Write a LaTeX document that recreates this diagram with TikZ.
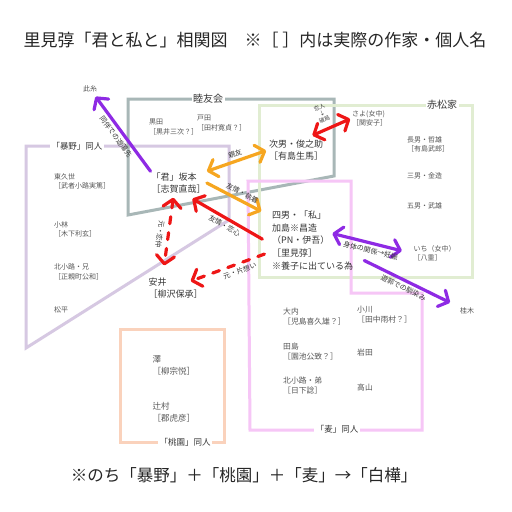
\documentclass[tikz,border=0pt]{standalone}
\usepackage{fontspec}
\setmainfont{Noto Sans CJK JP}
\usetikzlibrary{arrows.meta}
\definecolor{kaigray}{RGB}{168,183,183}
\definecolor{bouya}{RGB}{214,200,226}
\definecolor{akamatsu}{RGB}{225,237,210}
\definecolor{mugi}{RGB}{246,198,246}
\definecolor{touen}{RGB}{250,210,188}
\definecolor{yuujou}{RGB}{246,166,32}
\definecolor{koi}{RGB}{238,22,22}
\definecolor{yuukaku}{RGB}{142,42,228}
\definecolor{sumi}{RGB}{55,55,55}
\definecolor{usuzumi}{RGB}{85,85,85}
\newcommand\ttlfont{\fontsize{17}{20}\selectfont}
\newcommand\ntfont{\fontsize{16.5}{20}\selectfont}
\newcommand\nmfont{\fontsize{9}{12.7}\selectfont}
\newcommand\smfont{\fontsize{7}{9.5}\selectfont}
\newcommand\mgfont{\fontsize{7.8}{10}\selectfont}
\newcommand\tefont{\fontsize{8.5}{12.5}\selectfont}
\newcommand\lbfont{\fontsize{7}{7.5}\selectfont}
\newcommand\tnyfont{\fontsize{5.5}{6.5}\selectfont}
\newcommand\grfont{\fontsize{8.5}{10}\selectfont}
\newcommand\bigrfont{\fontsize{10}{11}\selectfont}

\begin{document}
\begin{tikzpicture}[x=1pt,y=-1pt,
        box/.style={line width=3pt},
        grp/.style={fill=white,inner sep=1.5pt,text=sumi,font=\grfont},
        person/.style={anchor=west,align=left,inner sep=1pt,text=sumi,font=\nmfont},
        member/.style={anchor=west,align=left,inner sep=1pt,text=usuzumi,font=\smfont},
        rel/.style={line width=3.2pt,line cap=round,line join=round},
        onehead/.style={-{Straight Barb[length=8pt,width=18pt,round]}},
        twohead/.style={{Straight Barb[length=8pt,width=18pt,round]}-{Straight Barb[length=8pt,width=18pt,round]}},
        lbl/.style={font=\lbfont,text=sumi,inner sep=2.5pt}]
        \fill[white] (0,0) rectangle (512,512);
        \useasboundingbox (0,0) rectangle (512,512);

        \node[font=\ttlfont,text=black!85] (title) at (255,40) {里見弴「君と私と」相関図　※［ ］内は実際の作家・個人名};
        \node[font=\ntfont,text=black!85] (note) at (244,475) {※のち「暴野」＋「桃園」＋「麦」→「白樺」};

        \begin{scope}
        % groups
        \draw[box,bouya] (26,146) -- (229,146) -- (229,220) -- (26,348) -- cycle;
        \draw[box,kaigray] (128,99) -- (334,99) -- (334,176) -- (128,215) -- cycle;
        \draw[box,akamatsu] (259,105) rectangle (472,277);
        \draw[box,mugi] (248,181) -- (351,181) -- (351,293) -- (422,293) -- (422,430) -- (250,430) -- cycle;
        \draw[box,touen] (120,329) rectangle (224,442);

        \node[grp] (bouyalbl) at (77,146) {「暴野」同人};
        \node[grp,font=\bigrfont] (kailbl) at (208,99) {睦友会};
        \node[grp,font=\bigrfont] (akalbl) at (442,105) {赤松家};
        \node[grp] (mugilbl) at (337,429) {「麦」同人};
        \node[grp] (touenlbl) at (185,442) {「桃園」同人};

        % main characters
        \node[person] (kimi) at (150.5,183) {「君」坂本\\［志賀直哉］};
        \node[person] (jinan) at (268,150) {次男・俊之助\\［有島生馬］};
        \node[person] (yonnan) at (271,240.5) {四男・「私」\\加島※昌造\\（PN・伊吾）\\［里見弴］\\※養子に出ている為};
        \node[person] (yasui) at (147.5,288) {安井\\［柳沢保承］};

        \node[member,anchor=center] (shiito) at (90,89) {此糸};
        \node[member] (kuroda) at (148,127) {黒田\\［黒井三次？］};
        \node[member] (toda) at (196,123) {戸田\\［田村寛貞？］};
        \node[member] (sayo) at (351,118.5) {さよ(女中)\\［関安子］};

        \node[member] (chonan) at (406,144.5) {長男・哲雄\\［有島武郎］};
        \node[member] (sannan) at (406,176) {三男・金造};
        \node[member] (gonan) at (406,206) {五男・武雄};
        \node[member] (ichi) at (412.5,253.5) {いち（女中）\\［八重］};
        \node[member] (katsuragi) at (459,311) {桂木};

        \node[member] (higashikuze) at (53,181.5) {東久世\\［武者小路実篤］};
        \node[member] (kobayashi) at (53,229.5) {小林\\［木下利玄］};
        \node[member] (kitaani) at (53,272) {北小路・兄\\［正親町公和］};
        \node[member] (matsudaira) at (53,310) {松平};

        \node[member,font=\tefont] (sawa) at (151.5,365.5) {澤\\［柳宗悦］};
        \node[member,font=\tefont] (tsujimura) at (151.5,412.5) {辻村\\［郡虎彦］};

        \node[member,font=\mgfont] (ouchi) at (282,317) {大内\\［児島喜久雄？］};
        \node[member,font=\mgfont] (tajima) at (282,351.5) {田島\\［園池公致？］};
        \node[member,font=\mgfont] (kitaotouto) at (282,386) {北小路・弟\\［日下諗］};
        \node[member,font=\mgfont] (ogawa) at (356,314.5) {小川\\［田中雨村？］};
        \node[member,font=\mgfont] (iwata) at (356,353) {岩田};
        \node[member,font=\mgfont] (takayama) at (356,388) {高山};

        % relations
        \draw[rel,onehead,yuukaku,shorten >=4pt] (kimi.north west) -- (shiito)
                node[lbl,midway,sloped,below] {同伴での遊蕩先};
        \draw[rel,twohead,yuujou,shorten >=2pt] (kimi.north east) -- (jinan.west)
                node[lbl,midway,sloped,above] {親友};
        \draw[rel,onehead,yuujou,shorten >=11pt] (kimi.east) -- (yonnan.150)
                node[lbl,midway,sloped,above] {友情・執着};
        \draw[rel,onehead,koi,shorten <=10pt,shorten >=8pt] (yonnan.-175) -- (kimi.-60)
                node[lbl,midway,sloped,below] {友情・恋心};
        \draw[rel,onehead,koi,dash pattern=on 7pt off 9pt,shorten <=7pt,shorten >=-14pt] (yonnan.-165) -- (yasui.north east)
                node[lbl,midway,sloped,below] {元・片想い};
        \draw[rel,twohead,koi,dash pattern=on 7pt off 9pt,shorten <=3pt,shorten >=11pt] ([xshift=-5pt]kimi.south) -- ([xshift=-13pt]yasui.north)
                node[lbl,midway,rotate=-98,anchor=north,inner sep=3.5pt] {元・恋仲};
        \draw[rel,twohead,koi,shorten <=7pt,shorten >=1pt] (jinan.50) -- (sayo.west)
                node[lbl,midway,sloped,above=3pt,align=center,font=\tnyfont] {恋人\\↓\\破局};
        \draw[rel,twohead,yuukaku,shorten >=11pt] ([xshift=-22pt,yshift=7pt]yonnan.east) -- (ichi.west)
                node[lbl,midway,sloped,below] {身体の関係→妊娠};
        \draw[rel,onehead,yuukaku,shorten <=11pt,shorten >=10pt] (yonnan.-20) -- (katsuragi)
                node[lbl,midway,sloped,below] {遊郭での馴染み};
        \end{scope}
\end{tikzpicture}
\end{document}
